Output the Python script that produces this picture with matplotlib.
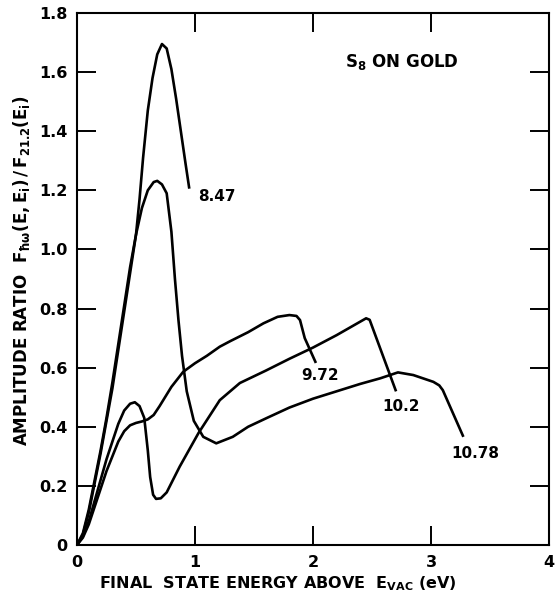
import matplotlib
matplotlib.use("Agg")
import matplotlib.pyplot as plt

# curves (energy in eV, amplitude ratio)
x_847 = [0, 0.05, 0.10, 0.15, 0.20, 0.25, 0.30, 0.35, 0.40, 0.45, 0.50, 0.53, 0.56,
         0.60, 0.64, 0.68, 0.72, 0.76, 0.80, 0.84, 0.88, 0.92, 0.95]
y_847 = [0, 0.04, 0.12, 0.22, 0.32, 0.43, 0.55, 0.68, 0.81, 0.94, 1.05, 1.17, 1.31,
         1.47, 1.58, 1.66, 1.695, 1.68, 1.61, 1.51, 1.40, 1.29, 1.21]

x_1078 = [0, 0.05, 0.10, 0.15, 0.20, 0.25, 0.30, 0.35, 0.40, 0.45, 0.50, 0.55, 0.60,
          0.65, 0.68, 0.72, 0.76, 0.80, 0.83, 0.86, 0.89, 0.93, 0.99, 1.07, 1.18,
          1.32, 1.45, 1.61, 1.80, 2.00, 2.20, 2.40, 2.57, 2.72, 2.85, 3.02, 3.07,
          3.10, 3.27]
y_1078 = [0, 0.035, 0.11, 0.21, 0.31, 0.42, 0.53, 0.66, 0.79, 0.92, 1.05, 1.14, 1.20,
          1.228, 1.232, 1.22, 1.19, 1.06, 0.90, 0.76, 0.64, 0.52, 0.42, 0.366, 0.344,
          0.366, 0.40, 0.43, 0.465, 0.495, 0.52, 0.545, 0.564, 0.584, 0.575, 0.552, 0.54,
          0.524, 0.37]

x_102 = [0, 0.05, 0.10, 0.15, 0.20, 0.25, 0.30, 0.35, 0.40, 0.45, 0.49, 0.53, 0.57,
         0.60, 0.62, 0.645, 0.67, 0.71, 0.76, 0.87, 1.03, 1.21, 1.38, 1.60, 1.80,
         2.00, 2.20, 2.45, 2.48, 2.70]
y_102 = [0, 0.03, 0.08, 0.15, 0.22, 0.29, 0.35, 0.41, 0.455, 0.478, 0.483, 0.47, 0.43,
         0.32, 0.23, 0.17, 0.156, 0.158, 0.178, 0.265, 0.379, 0.49, 0.548, 0.59, 0.63,
         0.668, 0.71, 0.767, 0.762, 0.524]

x_972 = [0, 0.05, 0.10, 0.15, 0.20, 0.25, 0.30, 0.35, 0.40, 0.45, 0.50, 0.55, 0.60,
         0.65, 0.70, 0.80, 0.90, 1.00, 1.10, 1.21, 1.30, 1.45, 1.58, 1.70, 1.80,
         1.86, 1.89, 1.93, 2.02]
y_972 = [0, 0.025, 0.07, 0.13, 0.19, 0.25, 0.30, 0.35, 0.385, 0.405, 0.413, 0.418, 0.425,
         0.44, 0.47, 0.535, 0.586, 0.615, 0.64, 0.671, 0.69, 0.72, 0.75, 0.772, 0.778,
         0.775, 0.761, 0.70, 0.62]

labels = ['8.47', '9.72', '10.2', '10.78']
label_x = [1.03, 1.90, 2.59, 3.17]
label_y = [1.18, 0.575, 0.468, 0.311]

yticks = [0, 0.2, 0.4, 0.6, 0.8, 1.0, 1.2, 1.4, 1.6, 1.8]
ytick_labels = ['0', '0.2', '0.4', '0.6', '0.8', '1.0', '1.2', '1.4', '1.6', '1.8']
xticks = [0, 1, 2, 3, 4]

plt.rcParams['font.family'] = ['DejaVu Sans']
plt.rcParams['font.weight'] = 'bold'
plt.rcParams['mathtext.default'] = 'regular'

fig = plt.figure(figsize=(5.56, 6.06), dpi=100)
ax = fig.add_axes([77 / 556, 1 - 545 / 606, 472 / 556, 532 / 606])

for xs, ys in [(x_847, y_847), (x_1078, y_1078), (x_102, y_102), (x_972, y_972)]:
    ax.plot(xs, ys, color='black', linewidth=1.9, solid_joinstyle='round')

for t, lx, ly in zip(labels, label_x, label_y):
    ax.text(lx, ly, t, fontsize=11, fontweight='bold', va='center', ha='left')

ax.text(2.27, 1.634, r'S$_8$ ON GOLD', fontsize=12, va='center', ha='left')

ax.set_xlim(0, 4)
ax.set_ylim(0, 1.8)
ax.set_xticks(xticks)
ax.set_xticklabels([str(v) for v in xticks])
ax.set_yticks(yticks)
ax.set_yticklabels(ytick_labels)
ax.tick_params(direction='in', length=14, width=1.4, top=True, right=True,
               labelsize=11.5, pad=7)
for s in ax.spines.values():
    s.set_linewidth(1.5)

ax.set_ylabel(r'AMPLITUDE RATIO  $F_{\hbar\omega}(E,E_i)\,/\,F_{21.2}(E_i)$',
              fontsize=12, fontweight='bold')
ax.yaxis.set_label_coords(-0.095, 0.515)
ax.set_xlabel(r'FINAL  STATE ENERGY ABOVE  $E_{VAC}$ (eV)', fontsize=11.5,
              fontweight='bold')
ax.xaxis.set_label_coords(0.425, -0.055)

fig.savefig('out.png', dpi=100)
